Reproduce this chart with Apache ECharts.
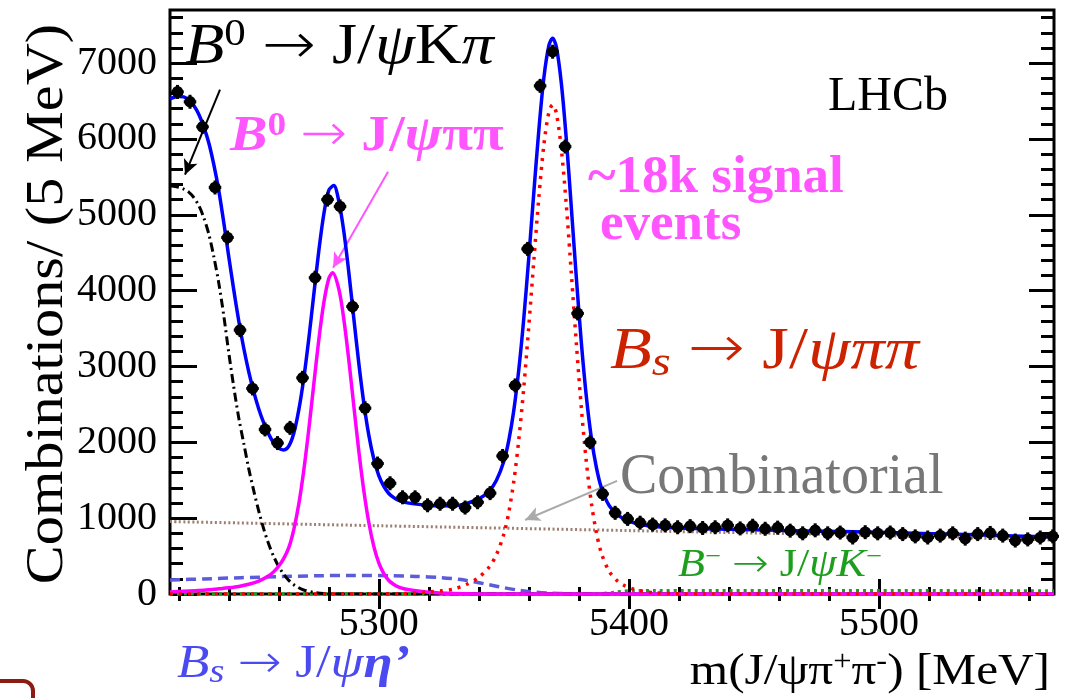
<!DOCTYPE html>
<html>
<head>
<meta charset="utf-8">
<script src="https://cdn.jsdelivr.net/npm/echarts@6/dist/echarts.min.js"></script>
<style>
  html, body { margin: 0; padding: 0; background: #fff; }
  #chart { width: 1080px; height: 698px; }
</style>
</head>
<body>
<div id="chart"></div>
<script>
// Invariant-mass spectrum m(J/psi pi+ pi-), 5 MeV bins, with fit components

const binCentres = [
  5219.5, 5224.5, 5229.5, 5234.5, 5239.5, 5244.5, 5249.5, 5254.5, 5259.5, 5264.5,
  5269.5, 5274.5, 5279.5, 5284.5, 5289.5, 5294.5, 5299.5, 5304.5, 5309.5, 5314.5,
  5319.5, 5324.5, 5329.5, 5334.5, 5339.5, 5344.5, 5349.5, 5354.5, 5359.5, 5364.5,
  5369.5, 5374.5, 5379.5, 5384.5, 5389.5, 5394.5, 5399.5, 5404.5, 5409.5, 5414.5,
  5419.5, 5424.5, 5429.5, 5434.5, 5439.5, 5444.5, 5449.5, 5454.5, 5459.5, 5464.5,
  5469.5, 5474.5, 5479.5, 5484.5, 5489.5, 5494.5, 5499.5, 5504.5, 5509.5, 5514.5,
  5519.5, 5524.5, 5529.5, 5534.5, 5539.5, 5544.5, 5549.5, 5554.5, 5559.5, 5564.5,
  5569.5
];
const counts = [
  6620, 6490, 6160, 5360, 4700, 3480, 2710, 2170, 1990, 2190,
  2850, 4170, 5200, 5110, 3790, 2450, 1720, 1460, 1275, 1275,
  1170, 1190, 1190, 1140, 1210, 1330, 1820, 2750, 4550, 6700,
  7150, 5900, 3700, 2000, 1320, 1070, 990, 940, 915, 905,
  880, 895, 870, 880, 905, 865, 900, 860, 875, 835,
  800, 840, 800, 810, 745, 815, 800, 810, 790, 760,
  745, 770, 800, 730, 790, 805, 770, 705, 720, 745,
  760
];

// Fit components: [mass, yield per bin]
const fitTotal = [[5216.5,6530],[5220,6560],[5222,6555],[5224,6515],[5226,6440],[5228,6325],[5230,6158],[5232,5950],[5234,5664],[5236,5322],[5238,4898],[5240,4448],[5242,4010],[5244,3600],[5246,3240],[5248,2930],[5250,2665],[5252,2440],[5254,2255],[5256,2105],[5258,1990],[5260,1920],[5262,1900],[5264,1950],[5266,2120],[5268,2428],[5270,2846],[5272,3366],[5274,3949],[5276,4523],[5278,5007],[5280,5323],[5282,5385],[5284,5181],[5286,4784],[5288,4243],[5290,3636],[5292,3042],[5294,2519],[5296,2095],[5298,1780],[5300,1560],[5302,1419],[5304,1325],[5306,1271],[5308,1233],[5310,1211],[5315,1185],[5320,1167],[5325,1162],[5330,1160],[5335,1194],[5340,1254],[5344,1353],[5347,1497],[5350,1751],[5352,2029],[5354,2427],[5356,2965],[5358,3645],[5360,4446],[5362,5298],[5364,6120],[5366,6805],[5368,7230],[5369.5,7327],[5371,7214],[5373,6731],[5375,5989],[5377,5087],[5379,4164],[5381,3312],[5383,2600],[5385,2058],[5387,1669],[5389,1401],[5392,1171],[5395,1061],[5398,988],[5402,940],[5406,911],[5410,891],[5420,870],[5440,853],[5470,832],[5500,813],[5535,783],[5570,752]];
const bsPiPi = [[5216.5,0],[5300,0],[5310,5],[5315,15],[5320,26],[5325,42],[5330,65],[5335,125],[5340,220],[5344,350],[5347,515],[5350,790],[5352,1080],[5354,1490],[5356,2040],[5358,2730],[5360,3540],[5362,4400],[5364,5230],[5366,5920],[5368,6350],[5369.5,6450],[5371,6340],[5373,5860],[5375,5120],[5377,4220],[5379,3300],[5381,2450],[5383,1740],[5385,1200],[5387,810],[5389,540],[5392,305],[5395,185],[5398,115],[5402,63],[5406,35],[5410,17],[5420,3],[5430,0],[5570,0]];
const b0PiPi = [[5216.5,28],[5220,32],[5224,38],[5228,45],[5232,55],[5236,68],[5240,82],[5244,100],[5248,128],[5252,170],[5256,240],[5258,295],[5260,370],[5262,470],[5264,611],[5266,850],[5268,1186],[5270,1633],[5272,2170],[5274,2767],[5276,3350],[5278,3840],[5280,4160],[5281.5,4235],[5284,4022],[5286,3627],[5288,3086],[5290,2480],[5292,1886],[5294,1364],[5296,942],[5298,628],[5300,410],[5302,270],[5304,178],[5306,126],[5308,90],[5310,70],[5314,45],[5320,22],[5330,6],[5340,0],[5570,0]];
const b0KPi = [[5216.5,5383],[5220,5364],[5222,5339],[5224,5298],[5226,5228],[5228,5123],[5230,4963],[5232,4748],[5234,4452],[5236,4102],[5238,3671],[5240,3180],[5242,2730],[5244,2320],[5246,1985],[5248,1650],[5250,1360],[5252,1092],[5254,855],[5256,655],[5258,492],[5260,360],[5262,258],[5264,180],[5266,123],[5268,82],[5270,53],[5274,21],[5278,7],[5284,0],[5570,0]];
const bsEtaPrime = [[5216.5,185],[5230,199],[5245,215],[5260,229],[5275,240],[5290,245],[5305,241],[5315,232],[5325,215],[5332,193],[5338,162],[5344,122],[5350,83],[5356,50],[5362,26],[5368,12],[5376,4],[5385,0],[5570,0]];
const combinatorial = [[5216.5,955],[5300,900],[5400,836],[5500,771],[5570,712]];
const bMinusK = [[5216.5,0],[5385,0],[5389,5],[5392,12],[5395,24],[5398,35],[5402,42],[5410,44],[5500,42],[5570,40]];

// Axis ranges and ticks
const xRange = [5216.5, 5570];
const yRange = [0, 7700];
const xMajorTicks = [5300, 5400, 5500];
const xMinorTicks = [5220, 5240, 5260, 5280, 5320, 5340, 5360, 5380, 5420, 5440, 5460, 5480, 5520, 5540, 5560];
const yMajorTicks = [0, 1000, 2000, 3000, 4000, 5000, 6000, 7000];
const yMinorTicks = [200, 400, 600, 800, 1200, 1400, 1600, 1800, 2200, 2400, 2600, 2800, 3200, 3400, 3600, 3800,
                     4200, 4400, 4600, 4800, 5200, 5400, 5600, 5800, 6200, 6400, 6600, 6800, 7200, 7400, 7600];

const F = "'Liberation Serif', 'DejaVu Serif', serif";
const ARROW_FONT = "'DejaVu Sans', sans-serif";
const chart = echarts.init(document.getElementById('chart'));

function tickAxis(kind, position, ticks, len, labels) {
  const range = kind === 'x' ? xRange : yRange;
  return {
    type: 'value', min: range[0], max: range[1], position: position,
    axisLine: { show: false },
    splitLine: { show: false },
    axisTick: { show: true, inside: true, length: len, customValues: ticks,
                lineStyle: { color: '#000', width: 3 } },
    axisLabel: labels ? {
      show: true, customValues: ticks, formatter: v => String(v),
      fontFamily: F, fontSize: 40, color: '#000', margin: kind === 'x' ? 10 : 13
    } : { show: false }
  };
}

function curve(name, pts, color, width, dash, z, extra) {
  return Object.assign({
    type: 'line', name: name, data: pts, symbol: 'none', showSymbol: false,
    smooth: 0.3, clip: true, silent: true, z: z,
    lineStyle: { color: color, width: width, type: dash, cap: 'butt', join: 'round' }
  }, extra || {});
}

function arrow(from, to, color) {
  return {
    silent: true, symbol: ['none', 'arrow'], symbolSize: [11, 15], animation: false,
    label: { show: false },
    lineStyle: { type: 'solid', color: color, width: 2 },
    data: [[{ coord: from }, { coord: to }]]
  };
}

// rich-text token helpers
const rt = (size, extra) => Object.assign({ fontFamily: F, fontSize: size, lineHeight: Math.round(size * 1.1) }, extra || {});
const arrowTok = (size, color) => ({ fontFamily: ARROW_FONT, fontWeight: 200, fontSize: size, lineHeight: Math.round(size * 1.1), fill: color });

const option = {
  animation: false,
  backgroundColor: '#fff',
  grid: { left: 170, right: 26, top: 10, bottom: 104, show: true,
          borderColor: '#000', borderWidth: 3, backgroundColor: 'transparent' },
  xAxis: [
    tickAxis('x', 'bottom', xMajorTicks, 15, true),
    tickAxis('x', 'bottom', xMinorTicks, 7, false),
    tickAxis('x', 'top', xMajorTicks, 15, false),
    tickAxis('x', 'top', xMinorTicks, 7, false)
  ],
  yAxis: [
    tickAxis('y', 'left', yMajorTicks, 27, true),
    tickAxis('y', 'left', yMinorTicks, 13, false),
    tickAxis('y', 'right', yMajorTicks, 25, false),
    tickAxis('y', 'right', yMinorTicks, 13, false)
  ],
  series: [
    curve('Combinatorial', combinatorial, '#9c7f70', 3, [2, 2.5], 2,
          { markLine: arrow([5395.3, 1491], [5358.5, 976], '#aaaaaa') }),
    curve("Bs -> J/psi eta'", bsEtaPrime, '#5b5bdc', 3.5, [10, 6], 3),
    curve('B- -> J/psi K-', bMinusK, '#1e9e1e', 3.5, [3, 4], 3),
    curve('B0 -> J/psi K pi', b0KPi, '#000', 3, [9, 4, 2, 4], 4,
          { markLine: arrow([5236.5, 6650], [5222.5, 5528], '#000') }),
    curve('B0 -> J/psi pi pi', b0PiPi, '#ff00ff', 3.5, 'solid', 5,
          { markLine: arrow([5303.7, 5567], [5281.7, 4301], '#ff55ff') }),
    curve('Bs -> J/psi pi pi', bsPiPi, '#ff0000', 3.5, [3, 6], 5),
    curve('Total fit', fitTotal, '#0000ff', 3.5, 'solid', 6),
    {
      type: 'custom', name: 'Data', silent: true, z: 8, clip: false,
      data: binCentres.map((m, i) => [m, counts[i]]),
      renderItem: function (params, api) {
        const p = api.coord([api.value(0), api.value(1)]);
        const hw = api.size([2.5, 0])[0];
        return { type: 'group', children: [
          { type: 'line', shape: { x1: p[0] - hw, y1: p[1], x2: p[0] + hw, y2: p[1] }, style: { stroke: '#000', lineWidth: 3 } },
          { type: 'line', shape: { x1: p[0], y1: p[1] - 7, x2: p[0], y2: p[1] + 7 }, style: { stroke: '#000', lineWidth: 3 } },
          { type: 'circle', shape: { cx: p[0], cy: p[1], r: 5.8 }, style: { fill: '#000' } }
        ] };
      }
    }
  ],
  graphic: [
    // axis titles
    { type: 'text', x: 48, y: 304, rotation: Math.PI / 2, scaleX: 1.1,
      style: { text: 'Combinations/ (5 MeV)', fontFamily: F, fontSize: 53, fill: '#000',
               align: 'center', verticalAlign: 'middle' } },
    { type: 'text', x: 1050, y: 672, scaleX: 1.12,
      style: { text: '{n|m(J/ψπ}{s|+}{n|π}{s|-}{n|) [MeV]}', align: 'right', verticalAlign: 'middle', fill: '#000',
               rich: { n: rt(44, { fill: '#000' }), s: rt(29, { fill: '#000', verticalAlign: 'top', lineHeight: 29 }) } } },
    { type: 'text', x: 828, y: 97,
      style: { text: 'LHCb', fontFamily: F, fontSize: 48, fill: '#000', align: 'left', verticalAlign: 'middle' } },
    // decay labels
    { type: 'text', x: 185, y: 48, z: 20, scaleX: 1.13,
      style: { text: '{i|B}{s|0}{n| }{a|→}{n| J/}{i|ψ}{n|K}{i|π}', align: 'left', verticalAlign: 'middle', fill: '#000',
               rich: { n: rt(57, { fill: '#000' }), i: rt(57, { fill: '#000', fontStyle: 'italic' }),
                       a: arrowTok(57, '#000'),
                       s: rt(38, { fill: '#000', verticalAlign: 'top', lineHeight: 38 }) } } },
    { type: 'text', x: 230, y: 137, z: 20, scaleX: 1.1,
      style: { text: '{bi|B}{s|0}{n| }{a|→}{n| }{b|J/}{bi|ψ}{b|ππ}', align: 'left', verticalAlign: 'middle', fill: '#ff55ff',
               rich: { n: rt(51, { fill: '#ff55ff' }), b: rt(51, { fill: '#ff55ff', fontWeight: 'bold' }),
                       bi: rt(51, { fill: '#ff55ff', fontWeight: 'bold', fontStyle: 'italic' }),
                       a: arrowTok(51, '#ff55ff'),
                       s: rt(34, { fill: '#ff55ff', fontWeight: 'bold', verticalAlign: 'top', lineHeight: 34 }) } } },
    { type: 'text', x: 588, y: 178, z: 20,
      style: { text: '~18k signal', fontFamily: F, fontSize: 53, fontWeight: 'bold', fill: '#ff55ff',
               align: 'left', verticalAlign: 'middle' } },
    { type: 'text', x: 600, y: 225, z: 20,
      style: { text: 'events', fontFamily: F, fontSize: 53, fontWeight: 'bold', fill: '#ff55ff',
               align: 'left', verticalAlign: 'middle' } },
    { type: 'text', x: 610, y: 352, z: 20, scaleX: 1.16,
      style: { text: '{i|B}{sb|s}{n| }{a|→}{n| J/}{i|ψππ}', align: 'left', verticalAlign: 'middle', fill: '#cc2200',
               rich: { n: rt(59, { fill: '#cc2200' }), i: rt(59, { fill: '#cc2200', fontStyle: 'italic' }),
                       a: arrowTok(59, '#cc2200'),
                       sb: rt(42, { fill: '#cc2200', fontStyle: 'italic', verticalAlign: 'bottom', lineHeight: 34 }) } } },
    { type: 'text', x: 620, y: 478, z: 20,
      style: { text: 'Combinatorial', fontFamily: F, fontSize: 56, fill: '#777777',
               align: 'left', verticalAlign: 'middle' } },
    { type: 'text', x: 678, y: 566, z: 20, scaleX: 1.13,
      style: { text: '{i|B}{s|−}{n| }{a|→}{n| J/}{i|ψK}{s|−}', align: 'left', verticalAlign: 'middle', fill: '#1e9e1e',
               rich: { n: rt(39, { fill: '#1e9e1e' }), i: rt(39, { fill: '#1e9e1e', fontStyle: 'italic' }),
                       a: arrowTok(39, '#1e9e1e'),
                       s: rt(25, { fill: '#1e9e1e', verticalAlign: 'top', lineHeight: 25 }) } } },
    { type: 'text', x: 177, y: 665, z: 20, scaleX: 1.15,
      style: { text: '{i|B}{sb|s}{n| }{a|→}{n| J/}{i|ψ}{bi|η’}', align: 'left', verticalAlign: 'middle', fill: '#4a4af0',
               rich: { n: rt(46, { fill: '#4a4af0' }), i: rt(46, { fill: '#4a4af0', fontStyle: 'italic' }),
                       bi: rt(46, { fill: '#4a4af0', fontStyle: 'italic', fontWeight: 'bold' }),
                       a: arrowTok(46, '#4a4af0'),
                       sb: rt(34, { fill: '#4a4af0', fontStyle: 'italic', verticalAlign: 'bottom', lineHeight: 34 }) } } },
    // frame corner in the lower-left margin
    { type: 'rect', shape: { x: -60, y: 681, width: 93, height: 60, r: 10 },
      style: { fill: 'none', stroke: '#8b1c12', lineWidth: 4 } }
  ]
};

chart.setOption(option);
</script>
</body>
</html>
